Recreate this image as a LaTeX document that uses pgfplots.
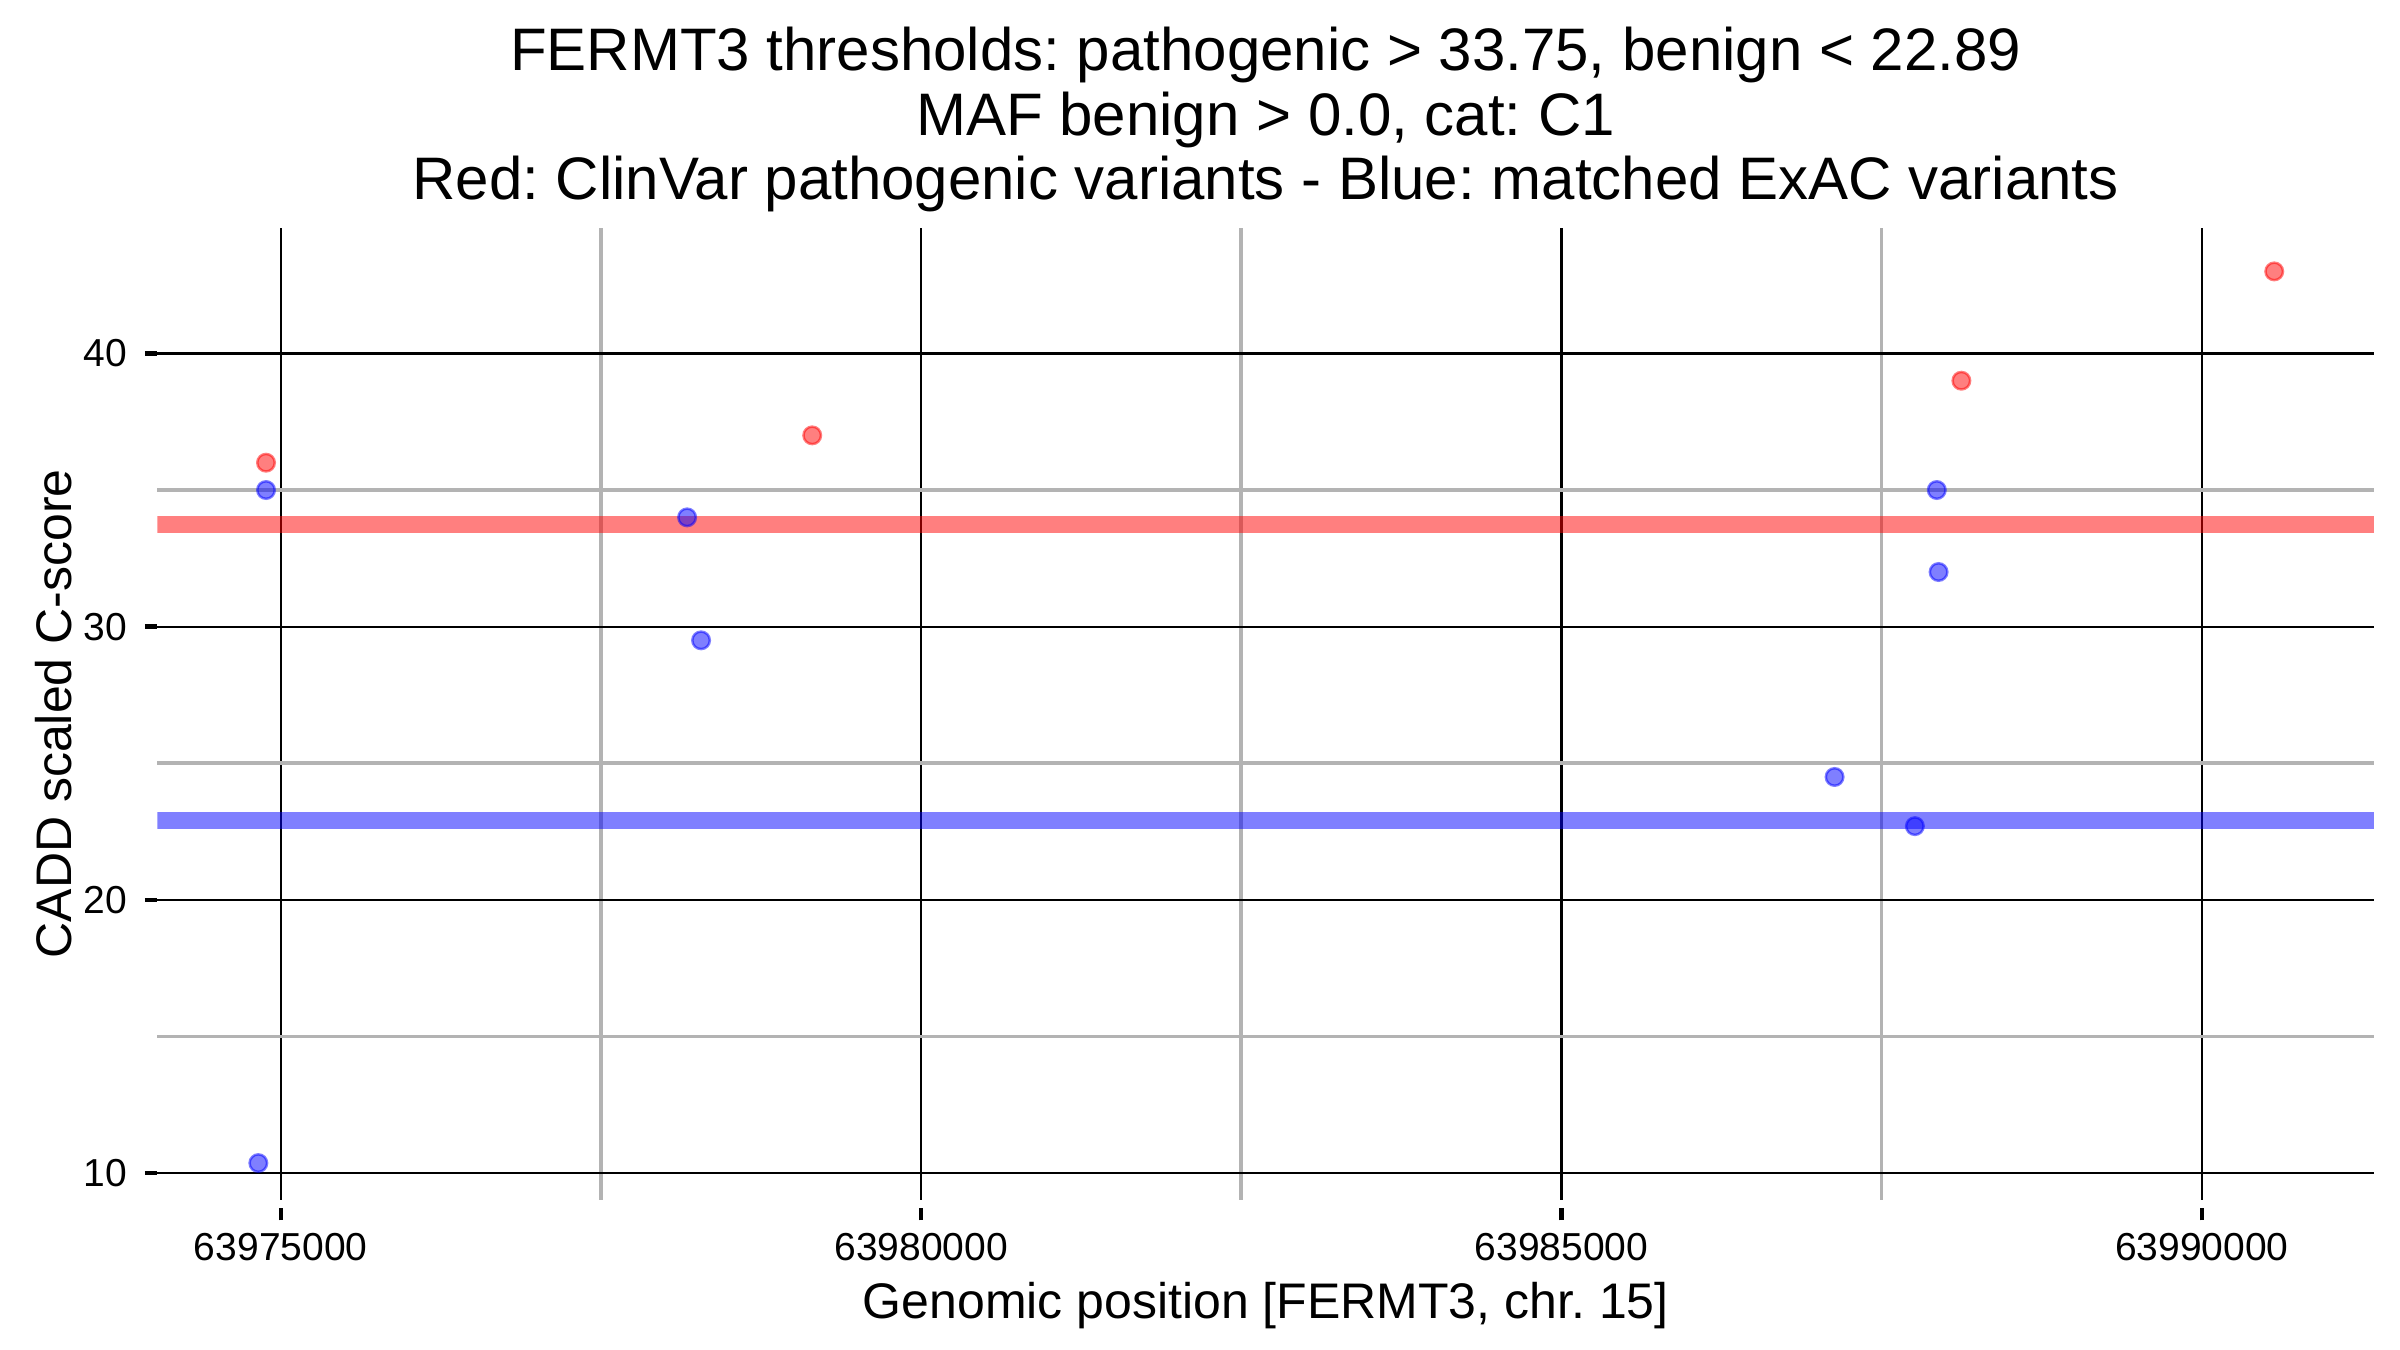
\documentclass[border=0pt]{standalone}
\usepackage{fontspec}
\setmainfont{Liberation Sans}
\usepackage{pgfplots}
\pgfplotsset{compat=1.18}
\usepackage{pgfplotstable}
\frenchspacing
\definecolor{mgray}{HTML}{B3B3B3}
% positions are stored in full; for plotting precision the common leading
% digits "639" are removed as text (x axis shown in units offset by 63900000)
\def\stripprefix639#1\relax{#1}
\pgfplotstableset{
  create on use/off/.style={
    create col/assign/.code={%
      \getthisrow{pos}\entry
      \edef\entry{\expandafter\stripprefix\entry\relax}%
      \pgfkeyslet{/pgfplots/table/create col/next content}\entry
    }
  }
}

\pgfplotstableread{
pos cadd
63974885 36
63979150 37
63988123 39
63990566 43
}\pathogenic

\pgfplotstableread{
pos cadd
63974885 35
63974825 10.37
63978173 34
63978282 29.5
63987931 35
63987945 32
63987133 24.5
63987760 22.7
}\benign

\begin{document}
\begin{tikzpicture}
\path[use as bounding box] (0,0) rectangle (480pt,270pt);
\begin{axis}[
  at={(31.46pt,30pt)}, anchor=south west,
  scale only axis, width=443.34pt, height=194.46pt,
  xmin=74036, xmax=91345, ymin=9.02, ymax=44.6,
  scaled x ticks=false, scaled y ticks=false,
  xtick={75000,80000,85000,90000},
  xticklabels={63975000,63980000,63985000,63990000},
  ytick={10,20,30,40}, yticklabels={10,20,30,40},
  minor x tick num=1, minor y tick num=1,
  grid=both,
  major grid style={black, line width=0.45pt},
  minor grid style={mgray, line width=0.75pt},
  axis line style={draw=none},
  tick align=outside, tick pos=left,
  major tick length=2.5pt, minor tick length=0pt,
  every major tick/.append style={black, line width=0.9pt},
  every major x tick/.append style={yshift=-1.6pt},
  ticklabel style={font=\fontsize{7.8}{9}\selectfont},
  xticklabel style={anchor=base, yshift=-9.6pt},
  xlabel={Genomic position [FERMT3, chr. 15]},
  ylabel={CADD scaled C-score},
  label style={font=\fontsize{10}{12}\selectfont},
  xlabel style={at={(axis description cs:0.5,-0.1220)}, anchor=base},
  ylabel style={at={(axis description cs:-0.03848,0.5)}, anchor=base},
]
\addplot[draw=red, opacity=0.5, line width=3.4pt, forget plot] coordinates {(74036,33.75) (91345,33.75)};
\addplot[draw=blue, opacity=0.5, line width=3.4pt, forget plot] coordinates {(74036,22.89) (91345,22.89)};
\addplot[only marks, mark=*, mark size=1.75pt, mark options={fill=red, draw=red, fill opacity=0.5, draw opacity=0.5, line width=0.5pt}] table[x=off, y=cadd] {\pathogenic};
\addplot[only marks, mark=*, mark size=1.75pt, mark options={fill=blue, draw=blue, fill opacity=0.5, draw opacity=0.5, line width=0.5pt}] table[x=off, y=cadd] {\benign};
\end{axis}
\begin{scope}[font=\fontsize{12}{13}\selectfont]
\node[anchor=base, inner sep=0pt] at (253.13pt,255.8pt) {FERMT3 thresholds: pathogenic > 33.75, benign < 22.89};
\node[anchor=base, inner sep=0pt] at (253.13pt,242.9pt) {MAF benign > 0.0, cat: C1};
\node[anchor=base, inner sep=0pt] at (253.13pt,230pt) {Red: ClinVar pathogenic variants - Blue: matched ExAC variants};
\end{scope}
\end{tikzpicture}
\end{document}
